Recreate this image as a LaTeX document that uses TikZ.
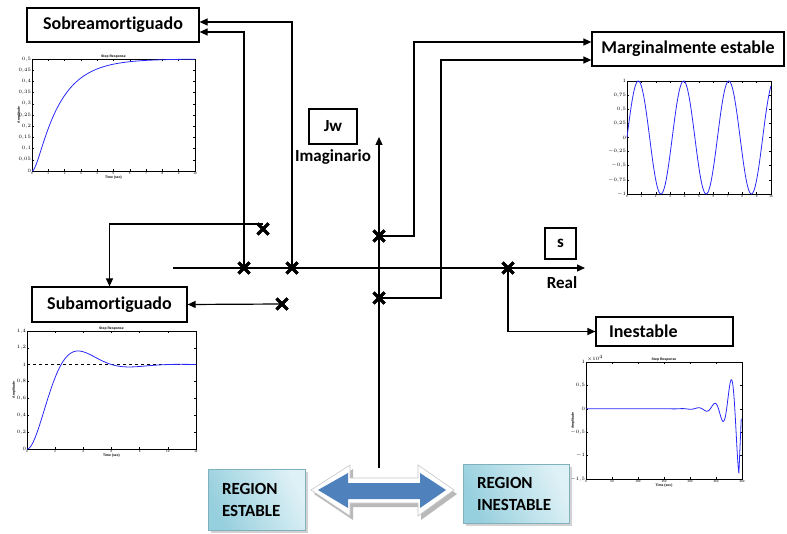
\documentclass[tikz,border=0pt]{standalone}
\usepackage{fontspec}
\setmainfont{Carlito}[Ligatures=NoCommon]
\newfontfamily\plotfont{Liberation Sans}
\usetikzlibrary{arrows.meta,shapes.misc,calc,shadows}
\pgfkeys{/pgf/number format/.cd,use comma,fixed,precision=2}

\definecolor{trace}{RGB}{40,40,250}
\definecolor{regA}{RGB}{150,207,221}
\definecolor{regB}{RGB}{222,241,246}
\definecolor{arrowblue}{RGB}{79,129,189}

\tikzset{
  label box/.style={draw, line width=1.2pt, inner sep=0pt,
    font=\fontsize{18}{21}\selectfont\bfseries},
  axis text/.style={font=\fontsize{17}{20}\selectfont\bfseries, inner sep=0pt},
  wire/.style={line width=1.2pt},
  conn/.style={wire, -{Triangle[length=8pt,width=7pt]}},
  pole/.style={cross out, draw, line width=3pt, minimum size=8pt, inner sep=0pt},
  plotframe/.style={line width=0.5pt},
  trace line/.style={trace, line width=0.8pt},
  ticklab/.style={font=\plotfont\fontsize{3}{3}\selectfont, inner sep=0.8pt},
  plottitle/.style={font=\plotfont\bfseries\fontsize{3.4}{4}\selectfont, inner sep=1pt},
  region/.style={draw=regA!85!black, line width=0.3pt,
    left color=regA, right color=regB, shading angle=115,
    drop shadow={shadow xshift=2.5pt, shadow yshift=-2.5pt, fill=gray!70},
    font=\fontsize{17}{22}\selectfont\bfseries, align=left, inner ysep=0pt}
}

\begin{document}
\begin{tikzpicture}[x=1pt, y=-1pt]
\useasboundingbox (0,0) rectangle (787,534);

% ---------------- response boxes ----------------
\node[label box, minimum width=172pt, minimum height=34pt] (sobre) at (113,25) {Sobreamortiguado};
\node[label box, minimum width=155pt, minimum height=35pt] (sub) at (109.5,304.5) {Subamortiguado};
\node[label box, minimum width=192pt, minimum height=34pt] (marg) at (688,49) {Marginalmente estable};
\node[label box, minimum height=29pt, text width=111pt, inner xsep=13pt, align=left] (inest) at (664.5,331.5) {Inestable};

% ---------------- s-plane axes ----------------
\coordinate (re0) at (173,268);
\coordinate (re1) at (585,268);
\coordinate (im0) at (379,468);
\coordinate (im1) at (379,137);
\draw[conn] (re0) -- (re1);
\draw[conn] (im0) -- (im1);

\node[draw, line width=1.2pt, minimum width=48pt, minimum height=35pt, axis text] (jw) at (333,126.5) {Jw};
\node[axis text] (imag) at (333,157) {Imaginario};
\node[draw, line width=1.2pt, minimum width=31pt, minimum height=31pt, axis text] (sbox) at (560.5,243.5) {s};
\node[axis text] (real) at (562,283) {Real};

% ---------------- poles ----------------
\node[pole] (p1) at (263,229) {};
\node[pole] (p2) at (244,268) {};
\node[pole] (p3) at (292,268) {};
\node[pole] (p4) at (282,304) {};
\node[pole] (p5) at (379,236) {};
\node[pole] (p6) at (379,298) {};
\node[pole] (p7) at (508,268) {};

\coordinate (c5) at (414,42);
\coordinate (c6) at (441,60);

% ---------------- connectors ----------------
\draw[conn] (p3.center) |- ([yshift=3pt]sobre.east);
\draw[conn] (p2.center) |- ([yshift=-7pt]sobre.east);
\draw[conn] ($(p1.center)+(0,-5)$) -| (sub.north);
\draw[conn] (p4.center) -- (sub.east);
\draw[conn] (p5.center) -| (c5) -- (c5 -| marg.west);
\draw[conn] (p6.center) -| (c6) -- (c6 -| marg.west);
\draw[conn] (p7.center) |- (inest.west);

% poles on top of the wires
\foreach \p in {p1,p2,p3,p4,p5,p6,p7} \node[pole] at (\p) {};

% ---------------- overdamped step response ----------------
\begin{scope}[shift={(32,171)}, x={(16.3pt,0)}, y={(0,224pt)}]
  \draw[plotframe] (0,0) rectangle (10,0.5);
  \foreach \t in {0,...,10} {
    \draw[plotframe] (\t,0) -- ++(0,1.8pt) (\t,0.5) -- ++(0,-1.8pt);
    \node[ticklab, below] at (\t,0) {\t};
  }
  \foreach \v in {0,0.05,...,0.51} {
    \draw[plotframe] (0,\v) -- ++(1.8pt,0) (10,\v) -- ++(-1.8pt,0);
    \node[ticklab, left] at (0,\v) {\pgfmathprintnumber{\v}};
  }
  \draw[dashed, line width=0.6pt] (0,0.5) -- (10,0.5);
  \draw[trace line] plot[domain=0:10, samples=120, smooth]
    (\x, {0.5*(1-(4*exp(-0.65*\x)-0.65*exp(-4*\x))/3.35)});
  \node[plottitle, above] at (5,0.5) {Step Response};
  \node[plottitle, rotate=90] at ($(0,0.25)+(-13pt,0)$) {Amplitude};
  \node[plottitle, below=3.5pt] at (5,0) {Time (sec)};
\end{scope}

% ---------------- oscillating response ----------------
\begin{scope}[shift={(627,137.5)}, x={(14.4pt,0)}, y={(0,56.5pt)}]
  \draw[plotframe] (0,-1) rectangle (10,1);
  \foreach \t in {0,...,10} {
    \draw[plotframe] (\t,-1) -- ++(0,1.8pt) (\t,1) -- ++(0,-1.8pt);
    \node[ticklab, below] at (\t,-1) {\t};
  }
  \foreach \v in {-1,-0.75,...,1.01} {
    \draw[plotframe] (0,\v) -- ++(1.8pt,0) (10,\v) -- ++(-1.8pt,0);
    \node[ticklab, left] at (0,\v) {\pgfmathprintnumber{\v}};
  }
  \draw[trace line] plot[domain=0:10, samples=200, smooth] (\x, {sin(2*\x r)});
\end{scope}

% ---------------- underdamped step response ----------------
\begin{scope}[shift={(27,449)}, x={(14.083pt,0)}, y={(0,84.29pt)}]
  \draw[plotframe] (0,0) rectangle (12,1.4);
  \foreach \t in {0,2,...,12} {
    \draw[plotframe] (\t,0) -- ++(0,1.8pt) (\t,1.4) -- ++(0,-1.8pt);
    \node[ticklab, below] at (\t,0) {\t};
  }
  \foreach \v in {0,0.2,...,1.41} {
    \draw[plotframe] (0,\v) -- ++(1.8pt,0) (12,\v) -- ++(-1.8pt,0);
    \node[ticklab, left] at (0,\v) {\pgfmathprintnumber{\v}};
  }
  \draw[dashed, line width=0.6pt] (0,1) -- (12,1);
  \draw[trace line] plot[domain=0:12, samples=150, smooth]
    (\x, {1-exp(-0.5*\x)*(cos(0.866*\x r)+0.57735*sin(0.866*\x r))});
  \node[plottitle, above] at (6,1.4) {Step Response};
  \node[plottitle, rotate=90] at ($(0,0.7)+(-13pt,0)$) {Amplitude};
  \node[plottitle, below=3.5pt] at (6,0) {Time (sec)};
\end{scope}

% ---------------- unstable step response ----------------
\begin{scope}[shift={(586,408.8)}, x={(0.52pt,0)}, y={(0,46.8pt)}]
  \draw[plotframe] (0,-1.5) rectangle (300,1);
  \foreach \t in {0,50,...,300} {
    \draw[plotframe] (\t,-1.5) -- ++(0,1.8pt) (\t,1) -- ++(0,-1.8pt);
    \node[ticklab, below] at (\t,-1.5) {\t};
  }
  \foreach \v in {-1.5,-1,...,1.01} {
    \draw[plotframe] (0,\v) -- ++(1.8pt,0) (300,\v) -- ++(-1.8pt,0);
    \node[ticklab, left] at (0,\v) {\pgfmathprintnumber{\v}};
  }
  \draw[trace line] plot[domain=0:294, samples=400, smooth]
    (\x, {-1.38*exp(0.053*(\x-294))*cos(0.2*(\x-294) r)}) -- (298.5,-0.21);
  \node[ticklab, above right] at (0,1) {$\times10^{4}$};
  \node[plottitle, above] at (150,1) {Step Response};
  \node[plottitle, rotate=90] at ($(0,-0.25)+(-13pt,0)$) {Amplitude};
  \node[plottitle, below=3.5pt] at (150,-1.5) {Time (sec)};
\end{scope}

% ---------------- stable / unstable regions ----------------
\node[region, minimum width=97pt, minimum height=61pt, text width=69pt, inner xsep=14pt] (stab) at (256.5,499.5) {REGION\\ESTABLE};
\node[region, minimum width=106pt, minimum height=59pt, text width=78pt, inner xsep=14pt] (unstab) at (516,493.5) {REGION\\INESTABLE};

% double arrow between the regions
\fill[gray!55] (314,494) -- (353,469) -- (353,482) -- (421,482) -- (421,469) -- (457,494)
  -- (421,520) -- (421,507) -- (353,507) -- (353,520) -- cycle;
\filldraw[fill=white, draw=gray!45, line width=0.6pt]
  (311,490) -- (350,465) -- (350,478) -- (418,478) -- (418,465) -- (454,490)
  -- (418,516) -- (418,503) -- (350,503) -- (350,516) -- cycle;
\fill[arrowblue] (318,490) -- (348,473) -- (348,483) -- (420,483) -- (420,473) -- (446,490)
  -- (420,508) -- (420,499) -- (348,499) -- (348,508) -- cycle;
\end{tikzpicture}
\end{document}
